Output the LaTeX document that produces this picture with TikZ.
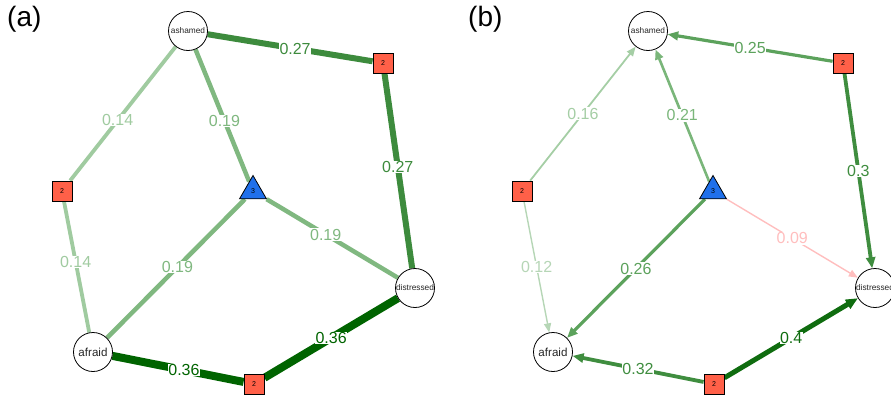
\documentclass[tikz,border=0pt]{standalone}
\usepackage{fontspec}
\setmainfont{Liberation Sans}
\usetikzlibrary{shapes.geometric,arrows.meta,backgrounds}

\definecolor{gdark}{RGB}{0,100,0}
\definecolor{gmid}{RGB}{61,139,61}
\definecolor{gsoft}{RGB}{128,184,128}
\definecolor{glight}{RGB}{160,203,160}
\definecolor{gforty}{RGB}{15,108,15}
\definecolor{gthirty}{RGB}{63,141,63}
\definecolor{gtwosix}{RGB}{92,162,92}
\definecolor{gtwoone}{RGB}{122,182,122}
\definecolor{gonesix}{RGB}{165,206,165}
\definecolor{gonetwo}{RGB}{182,214,182}
\definecolor{pinkish}{RGB}{255,190,190}
\definecolor{tomato}{RGB}{255,96,72}
\definecolor{triblue}{RGB}{32,112,235}

\tikzset{
  emo/.style={circle, draw, line width=0.8pt, fill=white, minimum size=39pt, inner sep=0pt, text=black!85},
  sqnode/.style={rectangle, draw, line width=0.8pt, fill=tomato, minimum size=20pt, inner sep=0pt, font=\fontsize{7}{7}\selectfont},
  trinode/.style={regular polygon, regular polygon sides=3, draw, line width=0.8pt, fill=triblue, minimum size=31pt, inner sep=0pt, font=\fontsize{7}{7}\selectfont},
  wlabel/.style={fill=white, inner sep=0.5pt, font=\fontsize{16}{16}\selectfont},
  tag/.style={anchor=base west, inner sep=0pt, font=\fontsize{28}{28}\selectfont}
}

\begin{document}
\begin{tikzpicture}[x=1pt, y=-1pt]
\useasboundingbox (0,0) rectangle (891,394);

\node[tag] (tagA) at (7,26) {(a)};
\node[tag] (tagB) at (468,26) {(b)};

% same layout in both panels
\foreach \p/\dx in {a/0,b/460}
{
  \begin{scope}[xshift=\dx]
  \node[emo, font=\fontsize{8.3}{8.3}\selectfont] (\p-ash) at (188,31) {ashamed};
  \node[emo, font=\fontsize{8.3}{8.3}\selectfont] (\p-dis) at (415,288) {distressed};
  \node[emo, font=\fontsize{11.6}{11.6}\selectfont] (\p-afr) at (93,352) {afraid};
  \node[sqnode] (\p-sqT) at (383,63) {2};
  \node[sqnode] (\p-sqL) at (62,191) {2};
  \node[sqnode] (\p-sqB) at (254,384) {2};
  \node[trinode] (\p-tri) at (253,191) {3};
  \end{scope}
}

\begin{scope}[on background layer]
% (a) undirected
\foreach \s/\t/\w/\c/\l/\q in {ash/sqT/6pt/gmid/0.27/.53, sqT/dis/6pt/gmid/0.27/.48,
  ash/sqL/3.8pt/glight/0.14/.55, sqL/afr/3.8pt/glight/0.14/.46,
  ash/tri/4.5pt/gsoft/0.19/.54, tri/afr/4.5pt/gsoft/0.19/.49, tri/dis/4.5pt/gsoft/0.19/.45,
  afr/sqB/8pt/gdark/0.36/.545, sqB/dis/8pt/gdark/0.36/.5}
{
  \draw[line width=\w, \c] (a-\s) -- (a-\t) node[wlabel, pos=\q] {\l};
}

% (b) directed
\foreach \s/\t/\w/\c/\l in {sqT/ash/3.2pt/gtwosix/0.25, sqT/dis/3.8pt/gthirty/0.3,
  sqL/ash/1.8pt/gonesix/0.16, sqL/afr/1.4pt/gonetwo/0.12,
  tri/ash/2.6pt/gtwoone/0.21, tri/afr/3.2pt/gtwosix/0.26, tri/dis/1.4pt/pinkish/0.09,
  sqB/afr/3.8pt/gthirty/0.32, sqB/dis/5pt/gforty/0.4}
{
  \draw[line width=\w, \c, -{Triangle[length=8pt 0.8, width=6pt 0.8]}] (b-\s) -- (b-\t) node[wlabel, midway] {\l};
}
\end{scope}
\end{tikzpicture}
\end{document}
